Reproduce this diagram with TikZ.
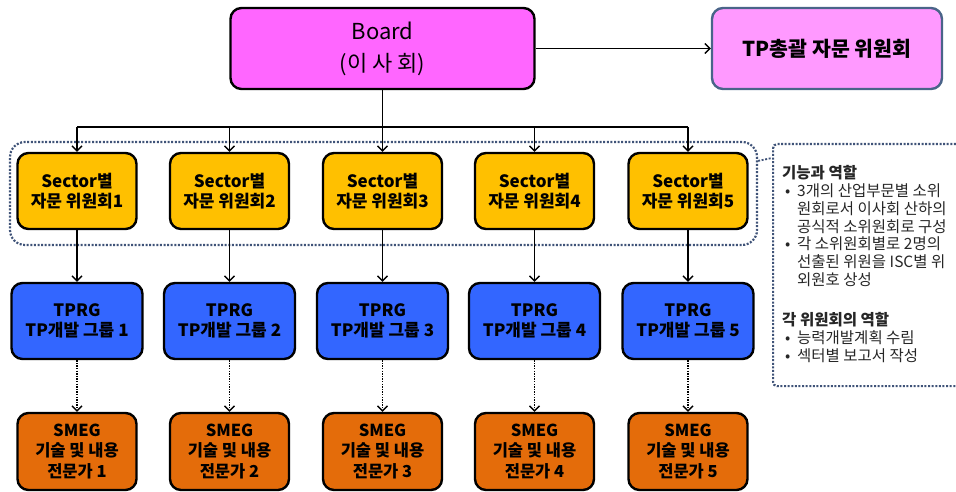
\documentclass[tikz,border=0pt]{standalone}
\usepackage{fontspec}
\setmainfont{Noto Sans CJK KR}
\usepackage{tikz}
\usetikzlibrary{arrows.meta}
\definecolor{BoardPink}{HTML}{FF66FF}
\definecolor{TPPink}{HTML}{FF99FF}
\definecolor{TPEdge}{HTML}{4A6489}
\definecolor{SecAmber}{HTML}{FFC000}
\definecolor{GroupBlue}{HTML}{3366FF}
\definecolor{ExpOrange}{HTML}{E46C0A}
\definecolor{DotNavy}{HTML}{3F5378}
\definecolor{InfoText}{HTML}{262626}

\tikzset{
  unitbox/.style={draw=black,line width=2.4pt,rounded corners=11pt,inner sep=0pt,align=center,
    font=\bfseries\fontsize{17}{20}\selectfont},
  secbox/.style={unitbox,fill=SecAmber,minimum width=119pt,minimum height=76pt},
  tprgbox/.style={unitbox,fill=GroupBlue,minimum width=131pt,minimum height=76pt},
  smegbox/.style={unitbox,fill=ExpOrange,minimum width=119pt,minimum height=77pt,
    font=\bfseries\fontsize{16.5}{20.5}\selectfont},
  dotline/.style={draw=DotNavy,line width=2.2pt,dash pattern=on 2pt off 1.6pt},
  conn/.style={line width=1.4pt,black},
  tip/.tip={Straight Barb[length=5pt,width=10pt,line width=1.4pt]},
}

\begin{document}
\begin{tikzpicture}[x=1pt,y=-1pt]
  \useasboundingbox (0,0) rectangle (956,492);
  % top level
  \node[unitbox,fill=BoardPink,minimum width=304pt,minimum height=81pt,
    font=\fontsize{22}{32}\selectfont] (board) at (382.5,48.5) {Board\\(이 사 회)};
  \node[unitbox,fill=TPPink,draw=TPEdge,minimum width=230pt,minimum height=81pt,
    font=\bfseries\fontsize{20.5}{24}\selectfont] (tpadv) at (827,48.5) {TP총괄 자문 위원회};
  \draw[conn,-tip] (board) -- (tpadv);

  % sector group outline and info box
  \node[dotline,rounded corners=15pt,minimum width=747pt,minimum height=103pt] (grp) at (383.5,193.5) {};
  \node[dotline,rounded corners=4pt,minimum width=230pt,minimum height=242pt,anchor=north west] (info) at (772,143) {};
  \draw[dotline,line width=1.8pt] ([yshift=-20pt]grp.north east) -- ([yshift=-15pt]info.north west);
  \node[anchor=north west,inner sep=0pt,align=left,text=InfoText,
    font=\fontsize{15.5}{17.9}\selectfont] (infotxt) at (782,165) {%
    \textbf{기능과 역할}\\
    \makebox[15pt][l]{\hspace{3pt}•}3개의 산업부문별 소위\\
    \makebox[15pt]{}원회로서 이사회 산하의\\
    \makebox[15pt]{}공식적 소위원회로 구성\\
    \makebox[15pt][l]{\hspace{3pt}•}각 소위원회별로 2명의\\
    \makebox[15pt]{}선출된 위원을 ISC별 위\\
    \makebox[15pt]{}외원호 상성\\[22pt]
    \textbf{각 위원회의 역할}\\
    \makebox[15pt][l]{\hspace{3pt}•}능력개발계획 수림\\
    \makebox[15pt][l]{\hspace{3pt}•}섹터별 보고서 작성};

  % five columns
  \coordinate (bar) at (0,127);
  \foreach \x [count=\i] in {77,229.5,382.5,534.5,688} {
    \node[secbox] (sec\i) at (\x,191) {Sector별\\자문 위원회\i};
    \node[tprgbox] (tprg\i) at (\x,321) {TPRG\\TP개발 그룹 \i};
    \node[smegbox] (smeg\i) at (\x,451.5) {SMEG\\기술 및 내용\\전문가 \i};
    \draw[conn,-tip] (sec\i.north|-bar) -- (sec\i.north);
    \draw[conn,-tip] (sec\i) -- (tprg\i);
    \draw[conn,line width=1.3pt,dash pattern=on 1.3pt off 1.3pt,-tip] (tprg\i) -- (smeg\i);
  }
  \draw[conn] (board) -- (sec3.north|-bar);
  \draw[conn] (sec1.north|-bar) -- (sec5.north|-bar);
\end{tikzpicture}
\end{document}
